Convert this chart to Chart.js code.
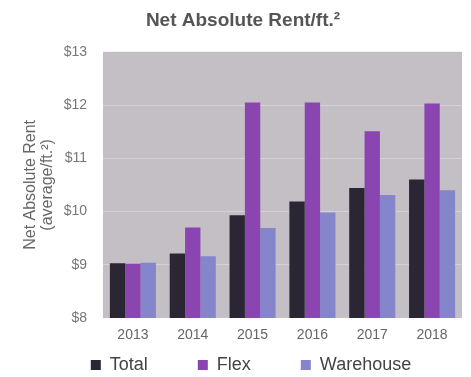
<!DOCTYPE html>
<html>
<head>
<meta charset="utf-8">
<script src="https://cdn.jsdelivr.net/npm/chart.js@4"></script>
<style>
  html, body { margin: 0; padding: 0; background: #fff; overflow: hidden; }
  #wrap { width: 471px; height: 377px; }
</style>
</head>
<body>
<div id="wrap"><canvas id="chart" width="471" height="377"></canvas></div>
<script>
// categories and series
const years = ["2013", "2014", "2015", "2016", "2017", "2018"];
const totalRent = [9.03, 9.21, 9.93, 10.19, 10.44, 10.60];
const flexRent = [9.02, 9.70, 12.05, 12.05, 11.51, 12.03];
const warehouseRent = [9.04, 9.16, 9.69, 9.98, 10.31, 10.40];
const yTicks = [8, 9, 10, 11, 12, 13];

const FONT = "'Liberation Sans', Arial, Helvetica, sans-serif";

// fill the plot area with the mauve-grey background
const plotBackground = {
  id: "plotBackground",
  beforeDraw(chart) {
    const { ctx, chartArea } = chart;
    ctx.save();
    ctx.fillStyle = "#c4bec5";
    ctx.fillRect(chartArea.left, chartArea.top, chartArea.right - chartArea.left, chartArea.bottom - chartArea.top);
    ctx.restore();
  }
};

// title and legend sit a little right of centre; legend row closer to the axis labels
const nudge = {
  id: "nudge",
  afterLayout(chart) {
    const t = chart.titleBlock;
    t.left += 10; t.right += 10;
    const lg = chart.legend;
    lg.left += 18; lg.right += 18;
    lg.top -= 38;
    lg.bottom = chart.height;
    lg.height = lg.bottom - lg.top;
  }
};

const ctx = document.getElementById("chart").getContext("2d");
new Chart(ctx, {
  type: "bar",
  data: {
    labels: years,
    datasets: [
      { label: "Total", data: totalRent, backgroundColor: "#2a2633" },
      { label: "Flex", data: flexRent, backgroundColor: "#8a45b0" },
      { label: "Warehouse", data: warehouseRent, backgroundColor: "#8585cc" }
    ]
  },
  options: {
    responsive: false,
    animation: false,
    layout: { padding: { top: 0, right: 9, left: 4, bottom: 0 } },
    datasets: { bar: { categoryPercentage: 0.77, barPercentage: 1.0 } },
    plugins: {
      title: {
        display: true,
        text: "Net Absolute Rent/ft.²",
        color: "#555",
        font: { family: FONT, size: 19, weight: "bold" },
        padding: { top: 9, bottom: 20 }
      },
      legend: {
        position: "bottom",
        maxHeight: 33,
        labels: {
          color: "#444",
          font: { family: FONT, size: 18 },
          boxWidth: 10,
          boxHeight: 10,
          padding: 50
        }
      },
      tooltip: { enabled: false }
    },
    scales: {
      x: {
        afterFit(scale) { scale.height = 26; },
        grid: { display: false, drawTicks: false },
        border: { display: false },
        ticks: { color: "#666", font: { family: FONT, size: 14 }, padding: 9 }
      },
      y: {
        min: yTicks[0],
        max: yTicks[yTicks.length - 1],
        afterFit(scale) { scale.width = 99; },
        afterBuildTicks(scale) { scale.ticks = yTicks.map(v => ({ value: v })); },
        grid: {
          color: c => (c.tick && (c.tick.value === 8 || c.tick.value === 13)) ? "rgba(0,0,0,0)" : "#d6d1d6",
          lineWidth: 1,
          drawTicks: false
        },
        border: { display: false },
        ticks: {
          color: "#777",
          font: { family: FONT, size: 14 },
          padding: 16,
          callback: v => "$" + v
        },
        title: {
          display: true,
          text: ["Net Absolute Rent", "(average/ft.²)"],
          color: "#666",
          font: { family: FONT, size: 16, lineHeight: 1.05 },
          padding: { top: 18, bottom: 0 }
        }
      }
    }
  },
  plugins: [plotBackground, nudge]
});
</script>
</body>
</html>
